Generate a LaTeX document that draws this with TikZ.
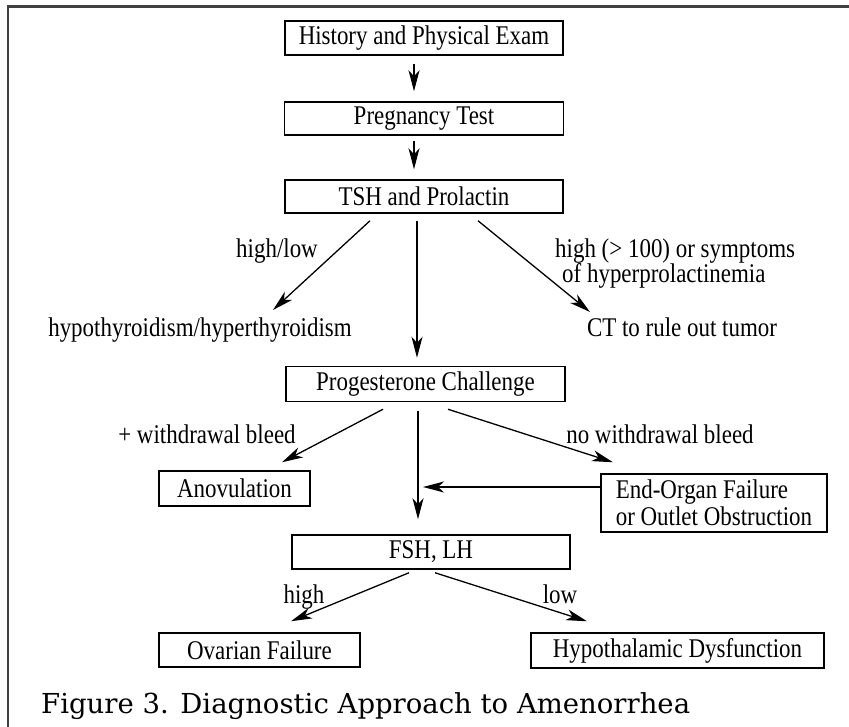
\documentclass[tikz,border=0pt]{standalone}
\usepackage{fontspec}
\setmainfont{Liberation Serif}[FakeStretch=0.85]
\newfontfamily\capfont{DejaVu Serif}
\usepackage{tikz}
\usetikzlibrary{arrows.meta,calc,positioning}
\tikzset{
  box/.style={draw=black, line width=1.5pt, minimum height=34pt, inner sep=0pt, font=\fontsize{27}{27}\selectfont},
  lbl/.style={inner sep=0pt, anchor=base, font=\fontsize{27}{25}\selectfont},
  arr/.style={line width=1.3pt, -{Stealth[length=21pt,width=11pt,inset=6pt]}},
}

\begin{document}
\begin{tikzpicture}[x=1pt,y=-1pt]
\useasboundingbox (0,0) rectangle (849,727);
% frame, open at right and bottom
\draw[line width=2.2pt, color=black!75] (8,727) -- (8,6.5) -- (849,6.5);

% main column
\node[box, minimum width=278pt] (hist) at (424,38) {History and Physical Exam};
\node[box, minimum width=279pt, minimum height=33pt] (preg) at (424,118.5) {Pregnancy Test};
\node[box, minimum width=278pt, minimum height=33pt] (tsh) at (424,196.5) {TSH and Prolactin};
\node[box, minimum width=279pt, minimum height=35pt] (prog) at (425.5,384) {Progesterone Challenge};
\node[box, minimum width=278pt] (fsh) at (431,552) {FSH, LH};

% results
\node[lbl] (thyr) at (200,337) {hypothyroidism/hyperthyroidism};
\node[lbl] (ct) at (682,337) {CT to rule out tumor};
\node[box, minimum width=151pt, minimum height=35pt] (anov) at (234.5,488.5) {Anovulation};
\node[box, minimum width=226pt, minimum height=58pt, align=left] (endo) at (714,503) {End-Organ Failure\\or Outlet Obstruction};
\node[box, minimum width=201pt] (ovar) at (259.5,650) {Ovarian Failure};
\node[box, minimum width=293pt, minimum height=35pt] (hypo) at (677.5,650.5) {Hypothalamic Dysfunction};

% edge labels
\node[lbl] (hilo) at (277,258) {high/low};
\node[lbl, anchor=base west, align=left] (sympt) at (555,283) {high (> 100) or symptoms\\\hspace*{7pt}of hyperprolactinemia};
\node[lbl] (bleed) at (207,443) {+ withdrawal bleed};
\node[lbl] (nobleed) at (660,443) {no withdrawal bleed};
\node[lbl] (high) at (304,603) {high};
\node[lbl] (low) at (560,603) {low};

% arrows
\draw[arr] ($(hist.south)+(-10,8)$) -- ($(preg.north)+(-10,-10)$);
\draw[arr] ($(preg.south)+(-10,5)$) -- ($(tsh.north)+(-10,-10)$);
\draw[arr] ($(tsh.south)+(-54,7)$) -- ($(thyr.base)+(73,-27)$);
\draw[arr] ($(tsh.south)+(-7,7)$) -- ($(prog.north)+(-8.5,-8)$);
\draw[arr] ($(tsh.south)+(54,7)$) -- ($(ct.base)+(-92,-25)$);
\draw[arr] ($(prog.south)+(-42.5,7)$) -- ($(anov.north)+(47.5,-8)$);
\draw[arr] ($(prog.south)+(22.5,7)$) -- ($(endo.north)+(-101,-11)$);
\draw[arr] ($(prog.south)+(-7.5,9)$) -- ($(fsh.north)+(-13,-15)$);
\coordinate (join) at (423,487);
\draw[arr] ($(endo.west)+(0,-16)$) -- (join);
\draw[arr] ($(fsh.south)+(-22,3)$) -- ($(ovar.north)+(31.5,-11)$);
\draw[arr] ($(fsh.south)+(4,3)$) -- ($(hypo.north)+(-90.5,-11)$);

% caption
\node[anchor=base west, inner sep=0pt, font=\capfont\fontsize{27.5}{28}\selectfont] (cap) at (41,713) {Figure 3. Diagnostic Approach to Amenorrhea};
\end{tikzpicture}
\end{document}
